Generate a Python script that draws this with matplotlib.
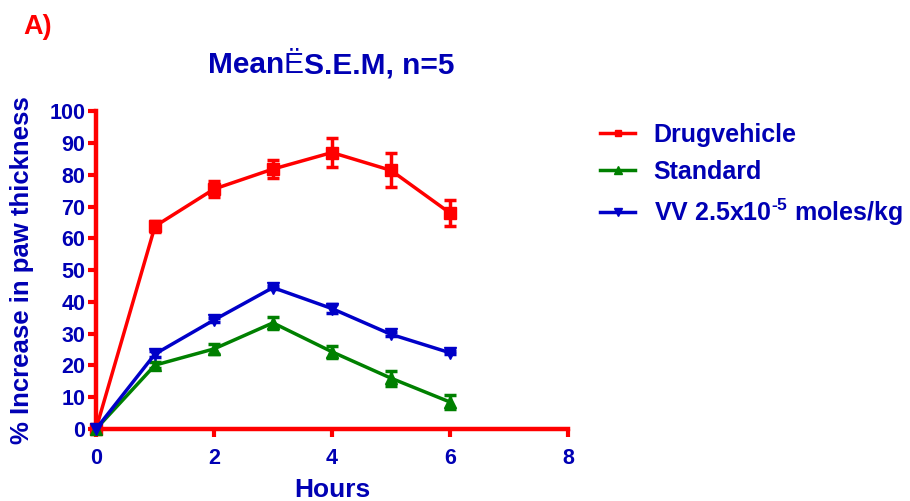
import matplotlib
matplotlib.use("Agg")
import matplotlib.pyplot as plt

hours = [0, 1, 2, 3, 4, 5, 6]
drug = [0, 63.8, 75.5, 81.8, 87.0, 81.4, 68.0]
drug_err = [0, 1.8, 2.5, 2.8, 4.5, 5.3, 4.0]
standard = [0, 20.1, 25.2, 33.4, 24.3, 16.0, 8.5]
standard_err = [0, 1.0, 1.7, 1.8, 1.9, 2.4, 2.1]
vv = [0, 23.6, 34.3, 44.5, 37.9, 29.8, 24.0]
vv_err = [0, 0.8, 0.6, 0.6, 1.5, 0.6, 0.5]

labels = ["Drugvehicle", "Standard", "VV 2.5x10$^{\\text{-5}}$ moles/kg"]
xticks = [0, 2, 4, 6, 8]
yticks = list(range(0, 101, 10))
title_parts = ["Mean", "Ë", "S.E.M, n=5"]

plt.rcParams['font.family'] = ['Liberation Sans', 'DejaVu Sans']
plt.rcParams['mathtext.fontset'] = 'custom'
plt.rcParams['mathtext.rm'] = 'Liberation Sans:bold'
plt.rcParams['mathtext.bf'] = 'Liberation Sans:bold'

txt = '#0000B4'
fig = plt.figure(figsize=(9.10, 5.01), dpi=100)
ax = fig.add_axes([0.1055, 0.1437, 0.5185, 0.6343])

specs = [(drug, drug_err, '#FF0000', 's', 8), (standard, standard_err, '#008000', '^', 8.5),
         (vv, vv_err, '#0000C8', 'v', 8.5)]
handles = []
for (vals, err, c, m, ms), lab in zip(specs, labels):
    h = ax.errorbar(hours, vals, yerr=err, color=c, marker=m, markersize=ms, lw=2.5,
                    elinewidth=2.5, capsize=4.5, capthick=2.5, label=lab, clip_on=False, zorder=3)
    handles.append(h)

ax.set_xlim(0, 8)
ax.set_ylim(0, 100)
ax.set_xticks(xticks)
ax.set_yticks(yticks)
for s in ['top', 'right']:
    ax.spines[s].set_visible(False)
for s in ['left', 'bottom']:
    ax.spines[s].set_color('#FF0000')
    ax.spines[s].set_linewidth(3.2)
ax.tick_params(colors='#FF0000', width=3, length=6, labelcolor=txt, labelsize=15.5)
ax.tick_params(axis='x', pad=8)
ax.tick_params(axis='y', pad=1.5)
for lbl in ax.get_xticklabels() + ax.get_yticklabels():
    lbl.set_fontweight('bold')

ax.set_xlabel('Hours', color=txt, fontsize=19, fontweight='bold')
ax.set_ylabel('% Increase in paw thickness', color=txt, fontsize=18.5, fontweight='bold')
ax.xaxis.set_label_coords(0.5, -0.192)
ax.xaxis.label.set_va('center')
ax.yaxis.set_label_coords(-0.157, 0.5)
ax.yaxis.label.set_va('center')

# title built from pieces (the Ë glyph is in regular weight)
renderer = fig.canvas.get_renderer()
tfs = 21.5
weights = ['bold', 'normal', 'bold']
pieces = []
for p, w in zip(title_parts, weights):
    t = fig.text(0, 0.870, p, color=txt, fontsize=tfs, fontweight=w, ha='left', va='center')
    pieces.append(t)
widths = [t.get_window_extent(renderer).width for t in pieces]
total = sum(widths)
x0 = 331 - total / 2
for t, w in zip(pieces, widths):
    t.set_x(x0 / 910)
    x0 += w

fig.text(0.041, 0.946, 'A)', color='#FF0000', fontsize=19.5, fontweight='bold', ha='center', va='center')

leg = fig.legend(handles=[h[0] for h in handles], labels=labels, loc='upper left',
                 bbox_to_anchor=(600 / 910, 0.754), frameon=False, fontsize=18,
                 handlelength=1.4, labelspacing=0.5, handletextpad=0.75, markerscale=0.6,
                 borderpad=0, borderaxespad=0)
for t in leg.get_texts():
    t.set_color(txt)
    t.set_fontweight('bold')

fig.savefig('out.png', dpi=100)
